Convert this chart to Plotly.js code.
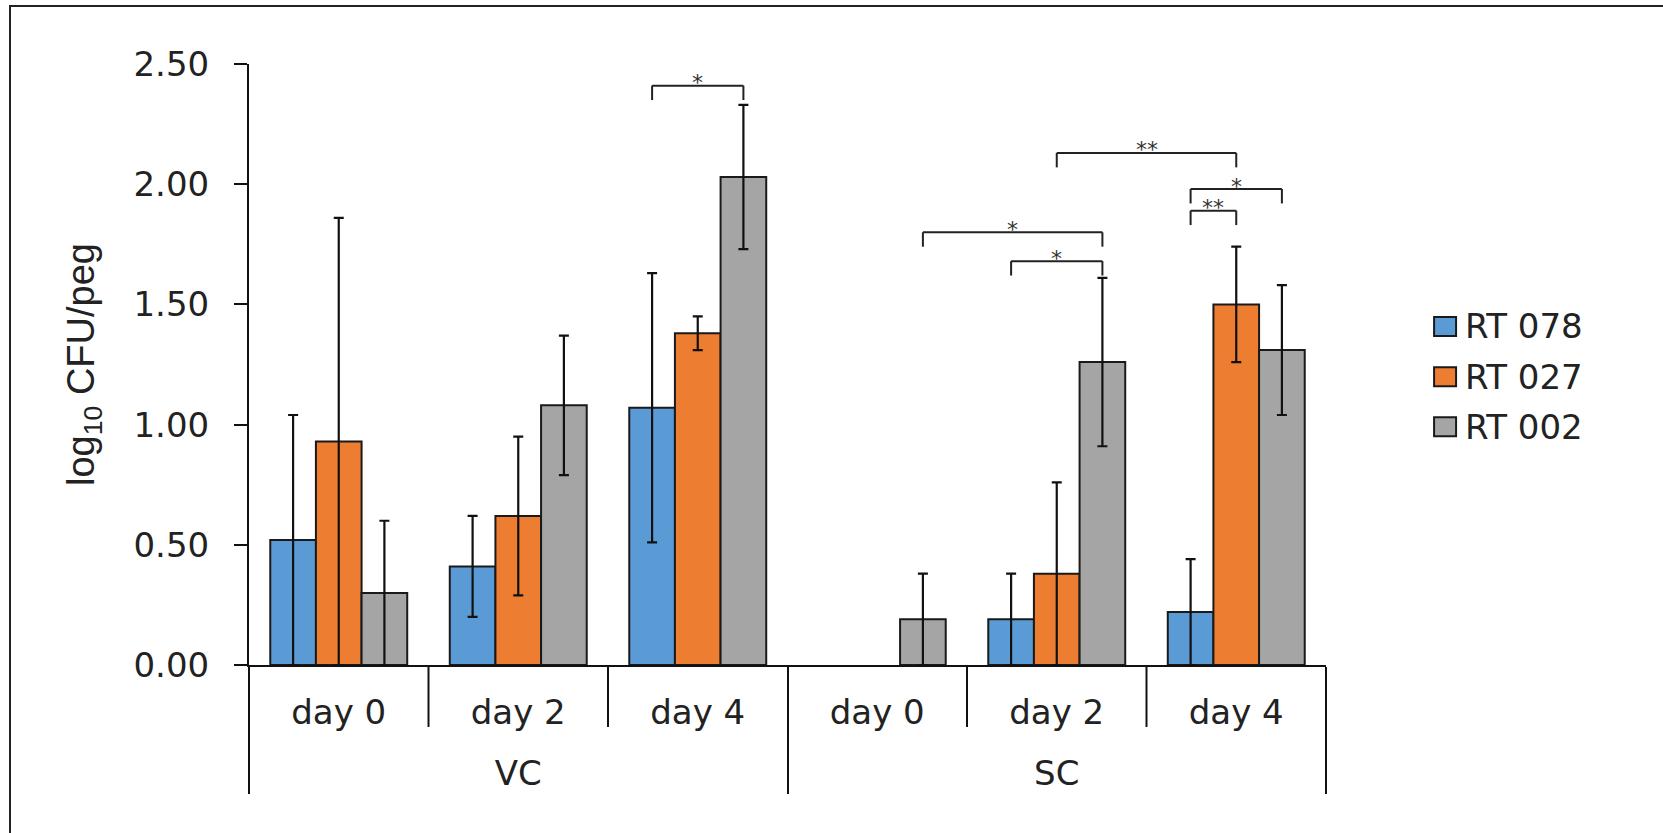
<!DOCTYPE html>
<html><head><meta charset="utf-8">
<script src="https://cdn.plot.ly/plotly-3.0.1.min.js"></script>
<style>
html,body{margin:0;padding:0;background:#fff;overflow:hidden;}
#chart{width:1663px;height:833px;}
#frame{position:absolute;left:9px;top:5px;width:1700px;height:900px;border:2px solid #222;pointer-events:none;}
</style></head><body>
<div id="chart"></div><div id="frame"></div>
<script>
// ---- data ----
const groups = ['VC','VC','VC','SC','SC','SC'];
const days = ['day 0','day 2','day 4','day 0','day 2','day 4'];
const seriesNames = ['RT 078','RT 027','RT 002'];
const rt078 = [0.52, 0.41, 1.07, null, 0.19, 0.22];
const rt078Err = [0.52, 0.21, 0.56, null, 0.19, 0.22];
const rt027 = [0.93, 0.62, 1.38, null, 0.38, 1.50];
const rt027Err = [0.93, 0.33, 0.07, null, 0.38, 0.24];
const rt002 = [0.30, 1.08, 2.03, 0.19, 1.26, 1.31];
const rt002Err = [0.30, 0.29, 0.30, 0.19, 0.35, 0.27];
// significance brackets: [category index, series index]
const bracketFrom = [[2,0],[4,1],[5,0],[5,0],[3,2],[4,0]];
const bracketTo   = [[2,2],[5,1],[5,2],[5,1],[4,2],[4,2]];
const bracketTop  = [2.41, 2.13, 1.98, 1.89, 1.80, 1.68];
const bracketLeg  = [2.35, 2.07, 1.92, 1.83, 1.74, 1.62];
const bracketLabel = ['*','**','*','**','*','*'];
const yTicks = [0, 0.5, 1.0, 1.5, 2.0, 2.5];

// ---- styles ----
const colors = ['#5B9BD5','#ED7D31','#A5A5A5'];
const values = [rt078, rt027, rt002];
const errs = [rt078Err, rt027Err, rt002Err];
const BARGAP = 0.237;
const barW = (1 - BARGAP) / 3;
const tickFont = {family:'DejaVu Sans, Verdana, sans-serif', size:34, color:'#222'};
const INNER_TICK = 62; // px
const PLOT_H = 833 - 63.6 - 168;

const traces = seriesNames.map((name, s) => ({
  type:'bar', name:name, legendgroup:'g' + s,
  x:[groups, days], y:values[s],
  marker:{color:colors[s], line:{color:'#1a1a1a', width:2}},
  error_y:{type:'data', array:errs[s], visible:true, color:'#111', thickness:2.2, width:5}
}));

const shapes = [];
const annotations = [];
function barX(ci, si){ return ci + (si - 1) * barW; }
bracketFrom.forEach((f, i) => {
  const t = bracketTo[i];
  const x1 = barX(f[0], f[1]), x2 = barX(t[0], t[1]);
  const ln = {color:'#222', width:2};
  shapes.push({type:'line', xref:'x', yref:'y', x0:x1, x1:x2, y0:bracketTop[i], y1:bracketTop[i], line:ln});
  shapes.push({type:'line', xref:'x', yref:'y', x0:x1, x1:x1, y0:bracketTop[i], y1:bracketLeg[i], line:ln});
  shapes.push({type:'line', xref:'x', yref:'y', x0:x2, x1:x2, y0:bracketTop[i], y1:bracketLeg[i], line:ln});
  annotations.push({xref:'x', yref:'y', x:(x1+x2)/2, y:bracketTop[i], text:bracketLabel[i],
    showarrow:false, yanchor:'middle', yshift:3, font:{family:'DejaVu Sans, sans-serif', size:22, color:'#333'}});
});
// inner category boundary ticks (within each outer group)
for (let i = 1; i < days.length; i++) {
  if (groups[i] === groups[i-1]) {
    shapes.push({type:'line', xref:'x', yref:'paper', x0:i-0.5, x1:i-0.5, y0:0, y1:-INNER_TICK/PLOT_H,
      line:{color:'#111', width:2}});
  }
}

const layout = {
  width:1663, height:833,
  margin:{l:249, r:337, t:63.6, b:168},
  paper_bgcolor:'#fff', plot_bgcolor:'#fff',
  barmode:'group', bargap:BARGAP, bargroupgap:0,
  showlegend:true,
  legend:{x:1.092, xanchor:'left', y:0.613, yanchor:'top', font:{family:'DejaVu Sans, Verdana, sans-serif', size:34, color:'#222'},
    traceorder:'grouped', tracegroupgap:3, bgcolor:'rgba(0,0,0,0)'},
  xaxis:{type:'multicategory', showline:true, linecolor:'#111', linewidth:2,
    ticks:'outside', tickson:'labels', ticklen:35, tickwidth:1, tickcolor:'rgba(0,0,0,0)',
    ticklabelstandoff:-19,
    showdividers:true, dividercolor:'#111', dividerwidth:2,
    tickfont:tickFont, showgrid:false, zeroline:false},
  yaxis:{range:[0,2.5], tickvals:yTicks, tickformat:'.2f', showline:true, linecolor:'#111', linewidth:2,
    ticks:'outside', ticklen:13, tickwidth:2, tickcolor:'#111', ticklabelstandoff:18,
    tickfont:tickFont, showgrid:false, zeroline:false,
    title:{text:'log<sub>10</sub> CFU/peg', font:{family:'Liberation Sans, Arial, sans-serif', size:38, color:'#222'}, standoff:27}},
  shapes:shapes, annotations:annotations
};
Plotly.newPlot('chart', traces, layout, {displayModeBar:false, staticPlot:true}).then(() => {
  // enlarge legend swatches to match the reference's boxy keys (22x19 px, 11 px before the text)
  document.querySelectorAll('.legend .traces').forEach(item => {
    const p = item.querySelector('.legendpoints path');
    const t = item.querySelector('text.legendtext');
    if (!p || !t) return;
    const tr = t.getBoundingClientRect();
    const m = p.getScreenCTM().inverse();
    const cy = tr.top + tr.height / 2;
    const xr = tr.left - 9, xl = xr - 22;
    const a = new DOMPoint(xl, cy - 9.5).matrixTransform(m);
    const b = new DOMPoint(xr, cy + 9.5).matrixTransform(m);
    p.setAttribute('d', `M${b.x},${b.y}H${a.x}V${a.y}H${b.x}Z`);
  });
});
</script>
</body></html>
